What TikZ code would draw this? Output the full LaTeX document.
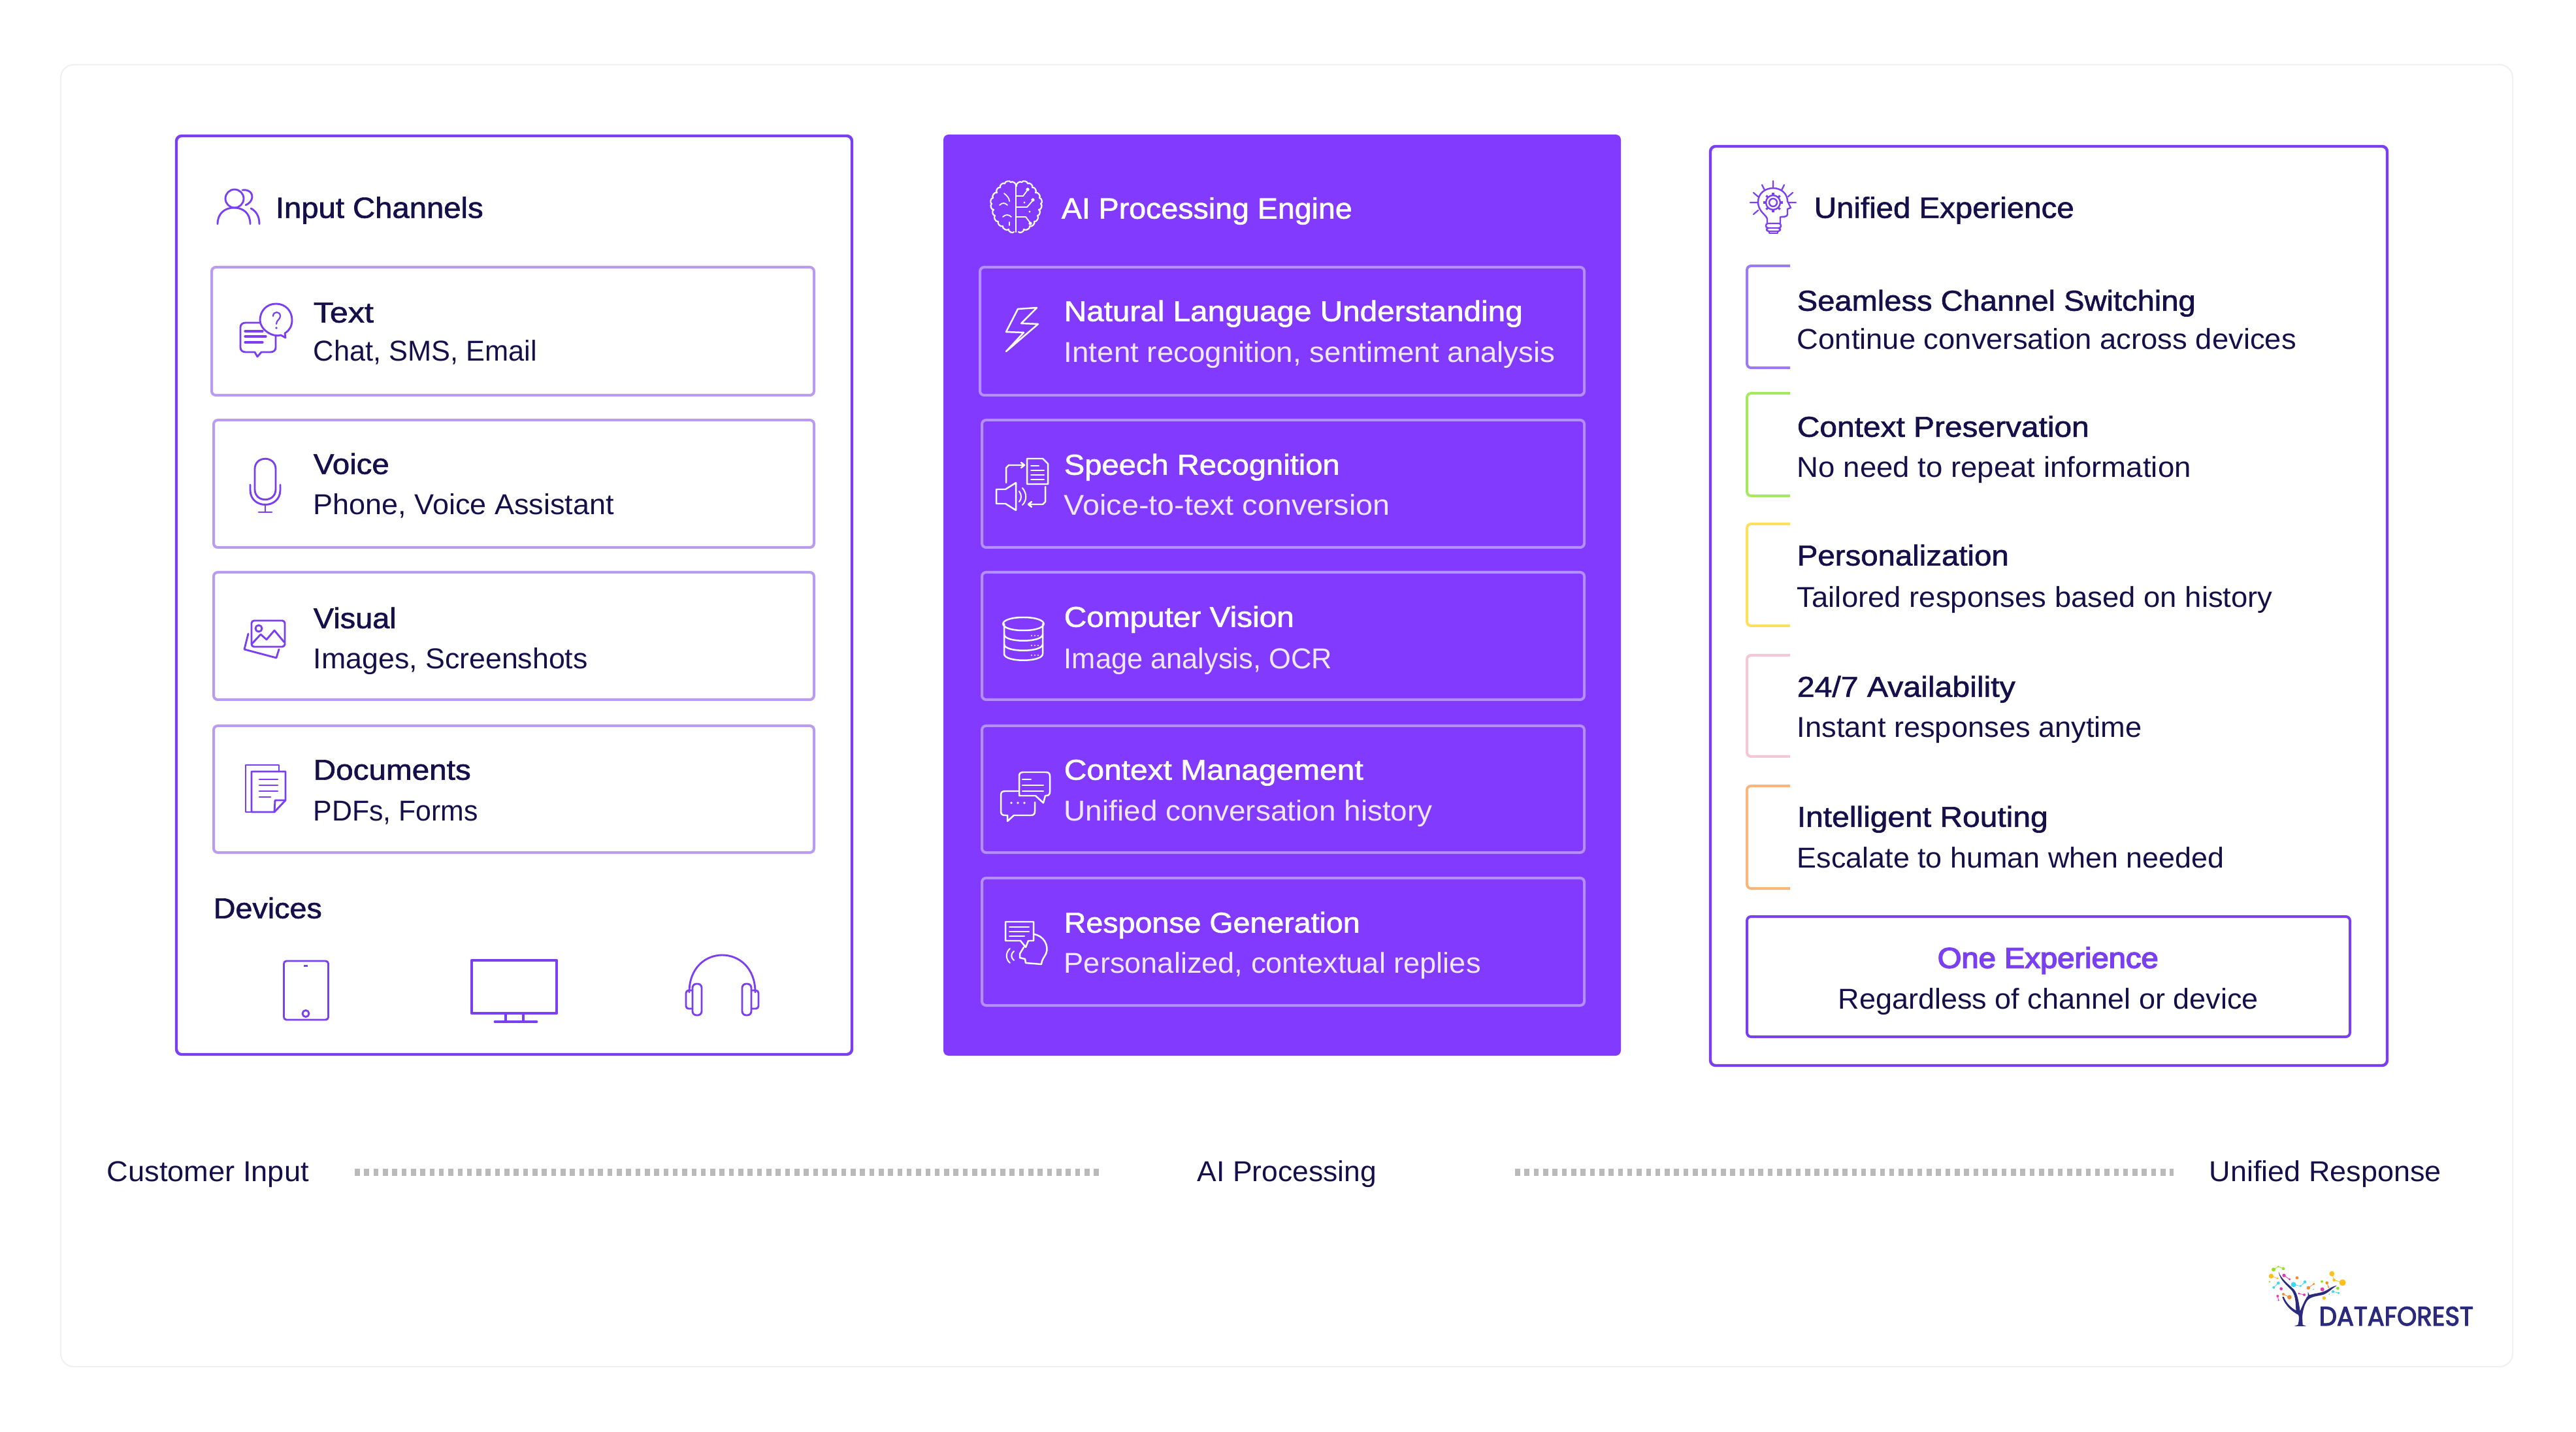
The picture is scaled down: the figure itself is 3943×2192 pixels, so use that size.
\documentclass[tikz,border=0pt]{standalone}
\usepackage{graphicx}
\usepackage{fontspec}
\usetikzlibrary{calc}
\setmainfont{Liberation Sans}
\newfontfamily\medf[FakeBold=1.4]{Liberation Sans}
\newfontfamily\strongf[FakeBold=3.5]{Liberation Sans}
\newfontfamily\logof[FakeBold=3]{Poppins}
\definecolor{pv}{HTML}{7B3FF2}
\definecolor{pfill}{HTML}{833AFF}
\definecolor{pl}{HTML}{B99CF2}
\definecolor{plw}{HTML}{B48FFF}
\definecolor{ink}{HTML}{15104A}
\definecolor{subw}{HTML}{EFE6FF}
\definecolor{navy}{HTML}{2B2A7C}
\definecolor{lgreen}{HTML}{9BE01E}
\definecolor{lyel}{HTML}{FFC01E}
\definecolor{lmag}{HTML}{E838B0}
\definecolor{lcy}{HTML}{3DD8F0}
\definecolor{lor}{HTML}{F58A2E}
\definecolor{brA}{HTML}{9B7CF0}
\definecolor{brB}{HTML}{A6E85F}
\definecolor{brC}{HTML}{FFE05A}
\definecolor{brD}{HTML}{F5C6D6}
\definecolor{brE}{HTML}{FBB57A}
\newsavebox\fitsave
\newcommand\fitw[2]{\sbox\fitsave{#2}\pgfmathsetmacro\fitr{#1*0.25/\the\wd\fitsave}\scalebox{\fitr}[1]{\usebox\fitsave}}
\tikzset{
  panel/.style={draw=pv,line width=1.1pt,rounded corners=2pt},
  enginepanel/.style={fill=pfill,rounded corners=2pt},
  inbox/.style={draw=pl,line width=1pt,rounded corners=1.6pt},
  wbox/.style={draw=plw,line width=1pt,rounded corners=1.6pt},
  onebox/.style={draw=pv,line width=1pt,rounded corners=1.6pt},
  bracket/.style={line width=1pt,rounded corners=1.6pt},
  txtbase/.style={inner sep=0pt,anchor=base west,xshift=-0.25pt,yshift=-0.4pt,font=\fontsize{11}{13}\selectfont},
  head/.style={txtbase,text=ink,font=\fontsize{11.2}{13}\medf},
  tit/.style={txtbase,text=ink,font=\fontsize{11}{13}\medf},
  sub/.style={txtbase,text=ink},
  headw/.style={txtbase,text=white,font=\fontsize{11.2}{13}\medf},
  titw/.style={txtbase,text=white,font=\fontsize{11}{13}\medf},
  subw/.style={txtbase,text=subw},
  ic/.style={draw=pv,line width=.72pt,line join=round,line cap=round},
  icw/.style={draw=white,line width=.62pt,line join=round,line cap=round},
  dotline/.style={draw=black!27,line width=2.75pt,dash pattern=on 1.9pt off 1.68pt},
}
\begin{document}
\begin{tikzpicture}[x=0.25pt,y=-0.25pt]
\useasboundingbox (0,0) rectangle (3943,2192);
\fill[white] (0,0) rectangle (3943,2192);
\draw[black!6,line width=.5pt,rounded corners=5pt] (93,99) rectangle (3846,2092);
% ---- panels
\draw[panel] (270,208) rectangle (1304,1614);
\fill[enginepanel] (1444,206) rectangle (2481,1616);
\draw[panel] (2618,224) rectangle (3654,1631);
% ---- input boxes
\draw[inbox] (324,409) rectangle (1246,605);
\draw[inbox] (327,643) rectangle (1246,838);
\draw[inbox] (327,876) rectangle (1246,1071);
\draw[inbox] (327,1111) rectangle (1246,1305);
% ---- engine boxes
\draw[wbox] (1500,409) rectangle (2425,605);
\draw[wbox] (1503,643) rectangle (2425,838);
\draw[wbox] (1503,876) rectangle (2425,1071);
\draw[wbox] (1503,1111) rectangle (2425,1305);
\draw[wbox] (1503,1344) rectangle (2425,1539);
% ---- experience brackets
\draw[bracket,draw=brA] (2740,407) -- (2674,407) -- (2674,563) -- (2740,563);
\draw[bracket,draw=brB] (2740,602) -- (2674,602) -- (2674,759) -- (2740,759);
\draw[bracket,draw=brC] (2740,802) -- (2674,802) -- (2674,958) -- (2740,958);
\draw[bracket,draw=brD] (2740,1003) -- (2674,1003) -- (2674,1158) -- (2740,1158);
\draw[bracket,draw=brE] (2740,1203) -- (2674,1203) -- (2674,1360) -- (2740,1360);
\draw[onebox] (2674,1403) rectangle (3597,1587);
% ---- texts, left
\node[head] (tInput) at (422,332) {\fitw{318}{Input Channels}};
\node[tit] (t1) at (480,492) {\fitw{92}{Text}};
\node[sub] (s1) at (480,551) {\fitw{342}{Chat, SMS, Email}};
\node[tit] (t2) at (480,724) {\fitw{116}{Voice}};
\node[sub] (s2) at (480,786) {\fitw{460}{Phone, Voice Assistant}};
\node[tit] (t3) at (480,960) {\fitw{127}{Visual}};
\node[sub] (s3) at (480,1022) {\fitw{420}{Images, Screenshots}};
\node[tit] (t4) at (480,1192) {\fitw{241}{Documents}};
\node[sub] (s4) at (480,1255) {\fitw{252}{PDFs, Forms}};
\node[tit] (tDev) at (327,1404) {\fitw{166}{Devices}};
% ---- texts, middle
\node[headw] (tAI) at (1625,333) {\fitw{445}{AI Processing Engine}};
\node[titw] (m1) at (1629,490) {\fitw{702}{Natural Language Understanding}};
\node[subw] (n1) at (1629,553) {\fitw{752}{Intent recognition, sentiment analysis}};
\node[titw] (m2) at (1629,725) {\fitw{422}{Speech Recognition}};
\node[subw] (n2) at (1629,787) {\fitw{499}{Voice-to-text conversion}};
\node[titw] (m3) at (1629,958) {\fitw{352}{Computer Vision}};
\node[subw] (n3) at (1629,1022) {\fitw{410}{Image analysis, OCR}};
\node[titw] (m4) at (1629,1192) {\fitw{458}{Context Management}};
\node[subw] (n4) at (1629,1255) {\fitw{564}{Unified conversation history}};
\node[titw] (m5) at (1629,1426) {\fitw{453}{Response Generation}};
\node[subw] (n5) at (1629,1488) {\fitw{638}{Personalized, contextual replies}};
% ---- texts, right
\node[head] (tUni) at (2777,332) {\fitw{398}{Unified Experience}};
\node[tit] (r1) at (2751,474) {\fitw{610}{Seamless Channel Switching}};
\node[sub] (q1) at (2751,533) {\fitw{764}{Continue conversation across devices}};
\node[tit] (r2) at (2751,667) {\fitw{447}{Context Preservation}};
\node[sub] (q2) at (2751,729) {\fitw{603}{No need to repeat information}};
\node[tit] (r3) at (2751,864) {\fitw{324}{Personalization}};
\node[sub] (q3) at (2751,928) {\fitw{728}{Tailored responses based on history}};
\node[tit] (r4) at (2751,1065) {\fitw{334}{24/7 Availability}};
\node[sub] (q4) at (2751,1127) {\fitw{528}{Instant responses anytime}};
\node[tit] (r5) at (2751,1264) {\fitw{384}{Intelligent Routing}};
\node[sub] (q5) at (2751,1327) {\fitw{654}{Escalate to human when needed}};
\node[txtbase,text=pv,font=\fontsize{11}{13}\strongf] (one) at (2966,1480) {\fitw{338}{One Experience}};
\node[sub] (oneSub) at (2814,1543) {\fitw{643}{Regardless of channel or device}};
% ---- bottom flow
\node[sub] (fCust) at (164,1807) {\fitw{309}{Customer Input}};
\node[sub] (fAI) at (1833,1807) {\fitw{274}{AI Processing}};
\node[sub] (fUni) at (3382,1807) {\fitw{355}{Unified Response}};
\coordinate (d1a) at (543,1794);
\coordinate (d1b) at (1686,1794);
\coordinate (d2a) at (2319,1794);
\coordinate (d2b) at (3327,1794);
\draw[dotline] (d1a) -- (d1b);
\draw[dotline] (d2a) -- (d2b);
% ---- icon: people
\draw[ic] (359,304) circle (14);
\draw[ic] (333,343) .. controls (333,326) and (345,318) .. (358,318) .. controls (372,318) and (383,326) .. (383,343);
\draw[ic] (371,291) .. controls (384,289) and (390,300) .. (383,309) .. controls (380,312) and (378,313) .. (376,314);
\draw[ic] (384,319) .. controls (392,323) and (397,331) .. (397,343);
% ---- icon: chat
\draw[ic,fill=white] (376,494) -- (414,494) .. controls (419,494) and (422,497) .. (422,501) -- (422,532) .. controls (422,536) and (419,539) .. (414,539) -- (400,539) -- (394,546) -- (390,539) -- (376,539) .. controls (371,539) and (368,536) .. (368,532) -- (368,501) .. controls (368,497) and (371,494) .. (376,494) -- cycle;
\draw[ic,line width=.8pt] (375,507) -- (402,507) (375,515) -- (407,515) (375,524) -- (402,524);
\draw[ic,fill=white] (422.5,465) .. controls (437,465) and (447,476) .. (447,490) .. controls (447,499) and (443,506) .. (436,510) -- (437,517) -- (430,513) .. controls (418,517) and (398,505) .. (398,490) .. controls (398,476) and (408,465) .. (422.5,465) -- cycle;
\draw[ic,line width=.55pt] (418,484) .. controls (418,476) and (429,476) .. (429,484) .. controls (429,489) and (423,490) .. (423,496);
\fill[pv] (423,502) circle (1.8);
% ---- icon: microphone
\draw[ic] (390,718) .. controls (390,697) and (422,697) .. (422,718) -- (422,749) .. controls (422,770) and (390,770) .. (390,749) -- cycle;
\draw[ic] (383,742) -- (383,750) .. controls (383,780) and (429,780) .. (429,750) -- (429,742);
\draw[ic] (406,772) -- (406,784) (396,784) -- (416,784);
% ---- icon: pictures
\draw[ic,rounded corners=1pt] (385,950) rectangle (436,990);
\draw[ic] (396,962) circle (5);
\draw[ic] (386,985) -- (399,971) -- (408,979) -- (420,965) -- (435,983);
\draw[ic] (380,970) -- (374,994) -- (423,1007) -- (427,994);
% ---- icon: documents
\draw[ic] (385,1243) -- (376,1243) -- (376,1171) -- (427,1171) -- (427,1181);
\draw[ic,fill=white] (385,1181) -- (437,1181) -- (437,1225) -- (420,1243) -- (385,1243) -- cycle;
\draw[ic] (437,1225) -- (421,1225) -- (420,1243);
\draw[ic] (397,1193) -- (425,1193) (397,1202) -- (425,1202) (397,1211) -- (425,1211) (397,1220) -- (414,1220);
% ---- icon: tablet
\draw[ic,rounded corners=1pt] (434.5,1471) rectangle (502.5,1561);
\fill[pv] (465,1476.5) rectangle (471,1479.5);
\draw[ic] (468,1551.5) circle (5);
% ---- icon: monitor
\draw[ic,line width=1.2pt,line cap=butt] (722,1470) rectangle (852,1551);
\draw[ic,line width=1.1pt,line cap=butt] (774,1551) -- (774,1564) (801,1551) -- (801,1564);
\draw[ic,line width=1.2pt] (758,1564) -- (821,1564);
% ---- icon: headset
\draw[ic] (1055,1519) .. controls (1055,1443) and (1156,1443) .. (1156,1519);
\draw[ic,rounded corners=1.5pt] (1060,1506) rectangle (1074,1554);
\draw[ic,rounded corners=1.5pt] (1136,1506) rectangle (1150,1554);
\draw[ic,rounded corners=1pt] (1060,1516) -- (1050,1516) -- (1050,1544) -- (1060,1544);
\draw[ic,rounded corners=1pt] (1150,1516) -- (1161,1516) -- (1161,1544) -- (1150,1544);
% ---- icon: brain
\draw[icw,line width=.55pt] (1555,285) to[bend right=85] (1547,279) to[bend right=85] (1538,281) to[bend right=85] (1531,287) to[bend right=85] (1526,295) to[bend right=85] (1520,303) to[bend right=85] (1518,312) to[bend right=85] (1521,321) to[bend right=85] (1523,330) to[bend right=85] (1528,339) to[bend right=85] (1535,346) to[bend right=85] (1544,351) to[bend right=85] (1552,355);
\draw[icw,line width=.55pt] (1556,285) to[bend left=85] (1564,279) to[bend left=85] (1573,281) to[bend left=85] (1580,287) to[bend left=85] (1585,295) to[bend left=85] (1591,303) to[bend left=85] (1593,312) to[bend left=85] (1590,321) to[bend left=85] (1588,330) to[bend left=85] (1583,339) to[bend left=85] (1576,346) to[bend left=85] (1567,351) to[bend left=85] (1559,355);
\draw[icw,line width=.55pt] (1555,285) -- (1555,355);
\draw[icw,line width=.45pt] (1537,296) .. controls (1542,300) and (1545,304) .. (1545,308) (1530,314) .. controls (1534,310) and (1538,310) .. (1542,314) (1535,332) .. controls (1539,328) and (1544,328) .. (1548,332) (1545,340) -- (1545,345);
\draw[icw,line width=.45pt] (1555,300) -- (1566,300) -- (1572,292) (1555,317) -- (1572,317) -- (1580,308) (1555,332) -- (1570,332) -- (1576,340);
\fill[white] (1573,290) circle (2.6) (1581,306) circle (2.6) (1577,342) circle (2.6) (1568,310) circle (1.6) (1576,324) circle (1.6);
% ---- icon: bolt
\draw[icw] (1587,471) -- (1558,473) -- (1540,508) -- (1567,509) -- (1540,538) -- (1589,496) -- (1563,495) -- cycle;
% ---- icon: speech to text
\draw[icw] (1572,702) -- (1596,702) -- (1604,710) -- (1604,741) -- (1572,741) -- cycle;
\draw[icw,line width=.5pt] (1578,713) -- (1590,713) (1578,720) -- (1598,720) (1578,727) -- (1598,727) (1578,734) -- (1598,734);
\draw[icw] (1540,739) -- (1540,716) -- (1544,712) -- (1567,712) (1563,708) -- (1568,712) -- (1563,716);
\draw[icw] (1525,749) -- (1539,749) -- (1555,739) -- (1555,781) -- (1539,771) -- (1525,771) -- cycle;
\draw[icw,line width=.5pt] (1560,752) .. controls (1564,757) and (1564,764) .. (1560,768) (1565,747) .. controls (1572,755) and (1572,766) .. (1565,773);
\draw[icw] (1600,745) -- (1600,768) -- (1596,772) -- (1574,772) (1579,768) -- (1574,772) -- (1579,776);
% ---- icon: database
\draw[icw] (1566.5,945) .. controls (1608,945) and (1608,965) .. (1566.5,965) .. controls (1525,965) and (1525,945) .. (1566.5,945) -- cycle;
\draw[icw] (1537,955) -- (1537,1001) .. controls (1537,1014) and (1596,1014) .. (1596,1001) -- (1596,955);
\draw[icw] (1537,971) .. controls (1537,984) and (1596,984) .. (1596,971);
\draw[icw] (1537,986) .. controls (1537,999) and (1596,999) .. (1596,986);
\foreach \yy in {973,988,1003}{\fill[white] (1579,\yy) circle (1.1) (1584,\yy) circle (1.1) (1589,\yy) circle (1.1);}
% ---- icon: context chat
\draw[icw] (1560,1218) -- (1560,1188) .. controls (1560,1184) and (1562,1182) .. (1566,1182) -- (1601,1182) .. controls (1605,1182) and (1607,1184) .. (1607,1188) -- (1607,1212) .. controls (1607,1216) and (1605,1218) .. (1601,1218) -- (1600,1218) -- (1597,1229) -- (1585,1218) -- cycle;
\draw[icw] (1565,1193) -- (1578,1193) (1565,1202) -- (1597,1202) (1565,1211) -- (1597,1211);
\draw[icw] (1558,1211) -- (1538,1211) .. controls (1534,1211) and (1532,1213) .. (1532,1217) -- (1532,1242) .. controls (1532,1246) and (1534,1248) .. (1538,1248) -- (1542,1248) -- (1542,1257) -- (1552,1248) -- (1578,1248) .. controls (1582,1248) and (1584,1246) .. (1584,1242) -- (1584,1228);
\foreach \xx in {1548,1558,1568}{\fill[white] (\xx,1229) circle (1.8);}
% ---- icon: response
\draw[icw] (1539,1411) -- (1582,1411) -- (1582,1440) -- (1574,1440) -- (1570,1450) -- (1562,1440) -- (1539,1440) -- cycle;
\draw[icw,line width=.5pt] (1545,1419) -- (1575,1419) (1545,1426) -- (1575,1426) (1545,1433) -- (1568,1433);
\draw[icw] (1582,1430) .. controls (1598,1432) and (1606,1448) .. (1601,1460) .. controls (1598,1466) and (1595,1468) .. (1594,1476) -- (1570,1474) -- (1569,1468) -- (1561,1466) -- (1561,1460) -- (1567,1450);
\draw[icw,line width=.5pt] (1552,1456) .. controls (1547,1460) and (1547,1466) .. (1552,1470) (1546,1452) .. controls (1539,1458) and (1539,1468) .. (1546,1474);
% ---- icon: bulb
\draw[ic,line width=.6pt] (2705,342) -- (2705,335) .. controls (2703,328) and (2691,324) .. (2691,309) .. controls (2691,296) and (2702,288) .. (2714,288) .. controls (2727,288) and (2736,297) .. (2736,308) -- (2741,318) -- (2736,320) -- (2736,328) .. controls (2736,332) and (2730,332) .. (2725,332) -- (2725,342);
\draw[ic,line width=.6pt] (2714,310) circle (6) (2714,310) circle (11);
\foreach \a in {0,45,...,315}{\draw[ic,line width=.8pt,line cap=butt] ($(2714,310)+(\a:11)$) -- ($(2714,310)+(\a:15)$);}
\draw[ic,line width=.6pt,rounded corners=.8pt] (2703,342) rectangle (2726,349) (2704,349) rectangle (2725,354);
\draw[ic,line width=.6pt] (2708,354) -- (2708,357) -- (2721,357) -- (2721,354);
\draw[ic,line width=.55pt] (2714,277) -- (2714,288) (2697,283) -- (2701,291) (2731,283) -- (2727,291) (2684,295) -- (2691,301) (2744,295) -- (2737,301) (2679,310) -- (2690,310) (2738,310) -- (2749,310) (2684,328) -- (2691,322);
% ---- logo
\begin{scope}[shift={(3360,1901)},x=0.08333pt,y=-0.08333pt]
  \draw[lgreen,line width=.2pt] (360,127) -- (382,113) -- (405,123);
  \draw[lyel,line width=.2pt] (349,157) -- (378,167) (628,146) -- (638,175) -- (677,187);
  \draw[lmag,line width=.2pt] (408,154) -- (434,172) (476,237) -- (501,243) (379,249) -- (383,268);
  \draw[lcy,line width=.2pt] (382,189) -- (361,209) (452,196) -- (484,203) -- (504,184) (633,228) -- (659,235);
  \draw[lor,line width=.2pt] (520,211) -- (545,193) (605,188) -- (613,208) (405,240) -- (433,254);
  \foreach \px/\py/\rr in {360/127/9,382/113/4,405/123/7,342/183/4,582/182/6,655/213/7}{\fill[lgreen] (\px,\py) circle (\rr);}
  \foreach \px/\py/\rr in {349/157/11,378/167/5,628/146/12,638/175/7,677/187/15,592/258/8}{\fill[lyel] (\px,\py) circle (\rr);}
  \foreach \px/\py/\rr in {408/154/8,434/172/5,395/215/7,379/249/6,383/268/4,476/237/4,501/243/6,584/218/9}{\fill[lmag] (\px,\py) circle (\rr);}
  \foreach \px/\py/\rr in {382/189/7,361/209/6,452/196/12,484/203/5,504/184/7,543/218/3,633/228/6,659/235/5,616/240/3}{\fill[lcy] (\px,\py) circle (\rr);}
  \foreach \px/\py/\rr in {468/165/7,405/240/6,433/254/10,520/211/8,545/193/5,605/188/7,613/208/4}{\fill[lor] (\px,\py) circle (\rr);}
  \fill[navy] (455,387) -- (472,381) .. controls (478,360) and (478,345) .. (474,335) .. controls (455,325) and (415,300) .. (400,252) -- (407,252) .. controls (420,285) and (445,305) .. (463,315) .. controls (462,285) and (462,250) .. (445,225) .. controls (425,200) and (390,180) .. (383,137) .. controls (395,170) and (430,195) .. (455,220) .. controls (472,240) and (478,290) .. (482,318) .. controls (495,285) and (510,255) .. (518,248) -- (518,230) -- (524,244) .. controls (550,235) and (590,235) .. (615,215) .. controls (628,207) and (640,202) .. (652,200) .. controls (630,212) and (615,232) .. (590,242) .. controls (560,250) and (530,250) .. (515,270) .. controls (500,290) and (494,320) .. (492,345) -- (494,381) -- (510,387) -- cycle;
\end{scope}
\node[inner sep=0pt,anchor=base west,text=navy,font=\fontsize{10.2}{12}\logof] (logoText) at (3549,2029) {\fitw{236}{DATAFOREST}};
\end{tikzpicture}
\end{document}
